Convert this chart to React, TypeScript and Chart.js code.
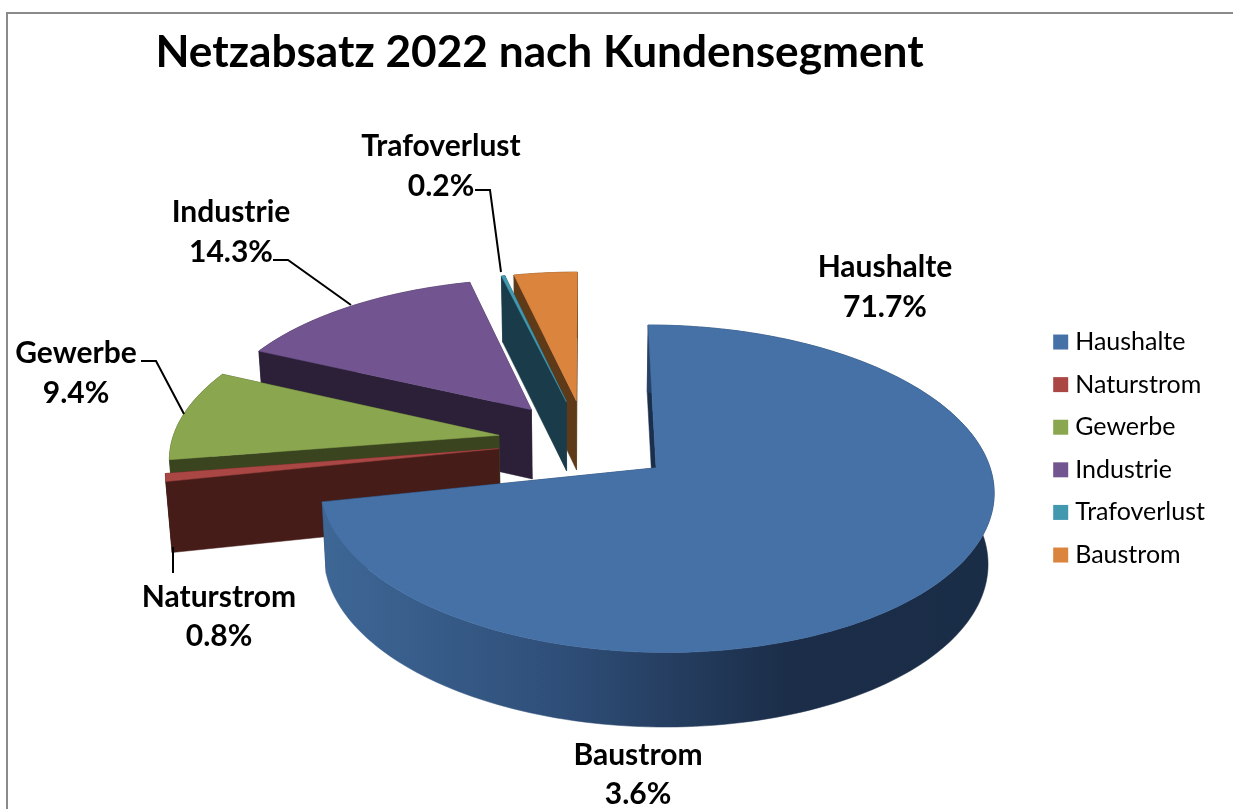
import React, { useEffect, useRef } from "react";
import { Chart, registerables } from "chart.js";

Chart.register(...registerables);

const categories = ["Haushalte", "Naturstrom", "Gewerbe", "Industrie", "Trafoverlust", "Baustrom"];
const shares = [71.7, 0.8, 9.4, 14.3, 0.2, 3.6];
const topColors = ["#4571a7", "#aa4644", "#8aa64f", "#725590", "#4198af", "#db843d"];
const wallColors = ["#1a2f4b", "#451c18", "#3a4520", "#2c2038", "#1a3c4a", "#5f3a18"];
const titleText = "Netzabsatz 2022 nach Kundensegment";

const FONT = "Lato, Carlito, sans-serif";
// projection of the tilted pie
const CX = 586, CY = 441, A = 154.3, B = 327, K = 0.125, EXPLODE = 0.27, DEPTH = 70, SHRINK = 0.985;

const project = (u: number, v: number, low: boolean) => {
  const p = 1 / (1 - K * v);
  let x = CX + B * u * p;
  let y = CY + A * v * p;
  if (low) {
    x = CX + (x - CX) * SHRINK;
    y += DEPTH * Math.pow(p, 0.4);
  }
  return [x, y];
};

const labelPlaces = [
  { x: 885, y: 267, dy: 40 },
  { x: 219, y: 597, dy: 39 },
  { x: 76, y: 353, dy: 40 },
  { x: 231, y: 212, dy: 40 },
  { x: 441, y: 146, dy: 40 },
  { x: 638, y: 755, dy: 39 },
];
const leaders: (number[][] | null)[] = [
  null,
  [[173, 547], [173, 573]],
  [[141, 361], [156, 361], [184, 414]],
  [[273, 260], [288, 260], [351, 305]],
  [[475, 190], [490, 190], [501, 272]],
  null,
];

const pie3d = {
  id: "pie3d",
  beforeDatasetDraw(chart: any) {
    const ctx: CanvasRenderingContext2D = chart.ctx;
    const arcs = chart.getDatasetMeta(0).data;
    const order = [5, 4, 3, 2, 1, 0];
    ctx.save();
    for (const i of order) {
      const { startAngle: s, endAngle: e } = arcs[i];
      const mid = (s + e) / 2;
      const ox = Math.cos(mid) * EXPLODE, oy = Math.sin(mid) * EXPLODE;
      const steps = Math.max(4, Math.ceil((e - s) * 40));
      const rim = (low: boolean) => {
        const pts: number[][] = [];
        for (let k = 0; k <= steps; k++) {
          const t = s + ((e - s) * k) / steps;
          pts.push(project(ox + Math.cos(t), oy + Math.sin(t), low));
        }
        return pts;
      };
      const apex = project(ox, oy, false);
      const apexLow = project(ox, oy, true);
      const top = rim(false), bot = rim(true);
      const fillPoly = (pts: number[][], fill: any) => {
        ctx.beginPath();
        pts.forEach((p, n) => (n ? ctx.lineTo(p[0], p[1]) : ctx.moveTo(p[0], p[1])));
        ctx.closePath();
        ctx.fillStyle = fill;
        ctx.strokeStyle = fill;
        ctx.lineWidth = 0.5;
        ctx.fill();
        ctx.stroke();
      };
      // radial walls
      fillPoly([apex, top[steps], bot[steps], apexLow], wallColors[i]);
      fillPoly([apex, top[0], bot[0], apexLow], wallColors[i]);
      // outer wall
      let wall: any = wallColors[i];
      if (i === 0) {
        const g = ctx.createLinearGradient(322, 0, 990, 0);
        g.addColorStop(0, "#3e6796");
        g.addColorStop(0.35, "#2f4f79");
        g.addColorStop(0.7, "#1b2d48");
        g.addColorStop(1, "#1a2d47");
        wall = g;
      }
      fillPoly([...top, ...[...bot].reverse()], wall);
      // top face
      fillPoly([apex, ...top], topColors[i]);
    }
    ctx.restore();
    return false;
  },
  afterDatasetsDraw(chart: any) {
    const ctx: CanvasRenderingContext2D = chart.ctx;
    ctx.save();
    ctx.strokeStyle = "#000";
    ctx.lineWidth = 2;
    for (const l of leaders) {
      if (!l) continue;
      ctx.beginPath();
      l.forEach((p, n) => (n ? ctx.lineTo(p[0], p[1]) : ctx.moveTo(p[0], p[1])));
      ctx.stroke();
    }
    ctx.fillStyle = "#000";
    ctx.font = `bold 30px ${FONT}`;
    ctx.textAlign = "center";
    ctx.textBaseline = "middle";
    categories.forEach((c, i) => {
      const p = labelPlaces[i];
      ctx.fillText(c, p.x, p.y);
      ctx.fillText(`${shares[i].toFixed(1)}%`, p.x, p.y + p.dy);
    });
    ctx.restore();
  },
};

export default function App() {
  const ref = useRef<HTMLCanvasElement>(null);
  useEffect(() => {
    const chart = new Chart(ref.current!, {
      type: "pie",
      data: {
        labels: categories,
        datasets: [{ data: shares, backgroundColor: topColors, borderWidth: 0 }],
      },
      options: {
        responsive: false,
        animation: false,
        layout: { padding: { left: 38, right: 18, top: 0, bottom: 0 } },
        plugins: {
          tooltip: { enabled: false },
          title: {
            display: true,
            text: titleText,
            fullSize: false,
            color: "#000",
            font: { family: FONT, size: 44.2, weight: "bold" },
            padding: { top: 26, bottom: 9 },
          },
          legend: {
            position: "right",
            fullSize: false,
            labels: {
              color: "#111",
              font: { family: FONT, size: 25 },
              boxWidth: 4,
              boxHeight: 4,
              padding: 17.6,
              generateLabels: () =>
                categories.map((c, i) => ({
                  text: c,
                  fillStyle: topColors[i],
                  strokeStyle: topColors[i],
                  lineWidth: 11,
                  hidden: false,
                  index: i,
                })),
            },
          },
        },
      } as any,
      plugins: [pie3d],
    });
    return () => chart.destroy();
  }, []);
  return (
    <div style={{ position: "absolute", left: 0, top: 0, width: 1233, height: 809, overflow: "hidden", background: "#fff" }}>
      <div style={{ position: "absolute", left: 6, top: 12, width: 1240, height: 820, borderLeft: "2px solid #8a8a8a", borderTop: "2px solid #8a8a8a" }} />
      <canvas ref={ref} width={1233} height={809} style={{ position: "absolute", left: 0, top: 0, display: "block" }} />
    </div>
  );
}
